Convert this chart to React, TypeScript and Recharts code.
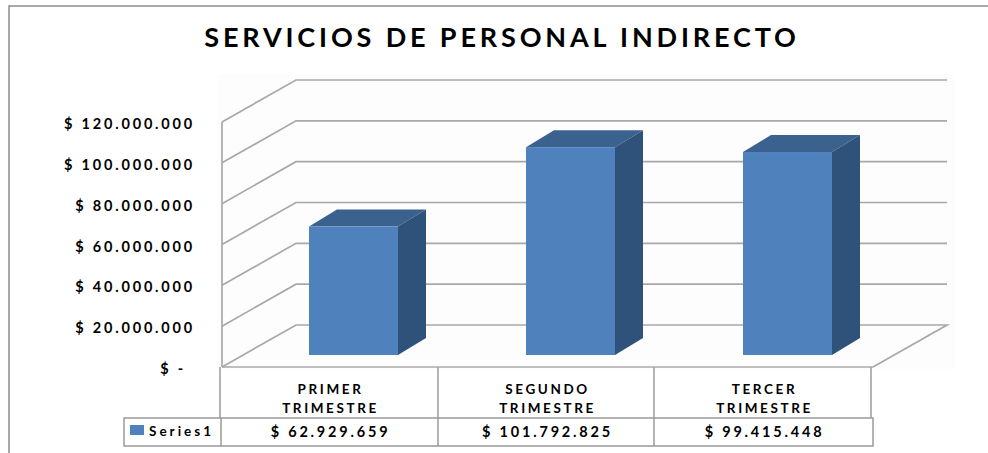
import React from 'react';
import { BarChart, Bar, XAxis, YAxis, CartesianGrid, Customized } from 'recharts';

const TITLE = 'SERVICIOS DE PERSONAL INDIRECTO';
const SERIES_NAME = 'Series1';
const categoryFirstLine = ['PRIMER', 'SEGUNDO', 'TERCER'];
const categorySecondLine = ['TRIMESTRE', 'TRIMESTRE', 'TRIMESTRE'];
const seriesValues = [62929659, 101792825, 99415448];
const valueLabels = ['$ 62.929.659', '$ 101.792.825', '$ 99.415.448'];
const axisTicks = [0, 20000000, 40000000, 60000000, 80000000, 100000000, 120000000];
const axisLabels = ['$ -', '$ 20.000.000', '$ 40.000.000', '$ 60.000.000', '$ 80.000.000', '$ 100.000.000', '$ 120.000.000'];

const data = categoryFirstLine.map((c, i) => ({ name: c, value: seriesValues[i], idx: i }));

const FONT = 'Lato, "Open Sans", sans-serif';
const GRID = '#a8a8a8';
const DX = 74;
const DY = -42;
const FRONT = '#4F81BD';
const SIDE = '#2F527A';
const TOP = '#3B628F';

const GridLine = (p: any) => {
  const { x1, x2, y1 } = p;
  const isFloor = y1 > 360;
  return (
    <g>
      <polyline
        points={`${x1},${y1} ${x1 + DX},${y1 + DY} ${x2 + DX},${y1 + DY}${isFloor ? ` ${x2},${y1}` : ''}`}
        fill="none"
        stroke={GRID}
        strokeWidth={1.7}
      />
    </g>
  );
};

const Bar3D = (p: any) => {
  const ox = 23;
  const oy = -12;
  const dx = 28;
  const dy = -17;
  const x = p.x + ox;
  const y = p.y + oy;
  const w = p.width;
  const h = p.height;
  return (
    <g>
      <polygon points={`${x},${y} ${x + dx},${y + dy} ${x + w + dx},${y + dy} ${x + w},${y}`} fill={TOP} />
      <polygon points={`${x + w},${y} ${x + w + dx},${y + dy} ${x + w + dx},${y + h + dy} ${x + w},${y + h}`} fill={SIDE} />
      <rect x={x} y={y} width={w} height={h} fill={FRONT} />
    </g>
  );
};

const YTick = (p: any) => {
  const i = axisTicks.indexOf(p.payload.value);
  return (
    <text x={i === 0 ? 186 : 195} y={p.y + 7} textAnchor="end" fontFamily={FONT} fontWeight={700} fontSize={14.5} letterSpacing={2.8} fill="#000">
      {axisLabels[i]}
    </text>
  );
};

const XTick = (p: any) => {
  const i = p.index;
  return (
    <g fontFamily={FONT} fontWeight={700} fill="#000" textAnchor="middle">
      <text x={p.x} y={394} fontSize={13.5} letterSpacing={2.6}>{categoryFirstLine[i]}</text>
      <text x={p.x} y={413} fontSize={13.5} letterSpacing={2.6}>{categorySecondLine[i]}</text>
      <text x={p.x} y={437} fontSize={14.5} letterSpacing={2.8}>{valueLabels[i]}</text>
    </g>
  );
};

const TableFrame = () => (
  <g>
    <polyline points="9,453 9,6 988,6" fill="none" stroke="#8c8c8c" strokeWidth={1.5} />
    <text x={502} y={47} textAnchor="middle" fontFamily={FONT} fontWeight={700} fontSize={27} letterSpacing={3.85} fill="#000">
      {TITLE}
    </text>
    <g stroke="#9a9a9a" strokeWidth={1.5} fill="none">
      <line x1={220} y1={367} x2={220} y2={418} />
      <line x1={438} y1={367} x2={438} y2={418} />
      <line x1={654} y1={367} x2={654} y2={418} />
      <line x1={871} y1={367} x2={871} y2={418} />
      <rect x={124} y={418} width={749} height={28} />
      <line x1={221} y1={418} x2={221} y2={446} />
      <line x1={438} y1={418} x2={438} y2={446} />
      <line x1={654} y1={418} x2={654} y2={446} />
    </g>
    <rect x={130} y={425} width={14} height={10} fill={FRONT} />
    <text x={149} y={436} fontFamily={FONT} fontWeight={700} fontSize={13.5} letterSpacing={3} fill="#000">
      {SERIES_NAME}
    </text>
  </g>
);

export default function App() {
  return (
    <div style={{ position: 'absolute', left: 0, top: 0, width: 988, height: 453, background: '#fff' }}>
      <div style={{ position: 'absolute', left: 217, top: 74, width: 738, height: 296, background: '#fdfdfd' }} />
      <div style={{ position: 'absolute', left: 0, top: 0 }}>
        <BarChart width={988} height={453} data={data} margin={{ top: 122, right: 115, bottom: 0, left: 0 }} barCategoryGap={0}>
          <CartesianGrid vertical={false} horizontal={GridLine as any} />
          <YAxis
            width={222}
            domain={[0, 120000000]}
            ticks={axisTicks}
            interval={0}
            tick={YTick as any}
            tickLine={false}
            axisLine={{ stroke: GRID, strokeWidth: 1.7 }}
          />
          <XAxis
            dataKey="name"
            height={86}
            interval={0}
            tick={XTick as any}
            tickLine={false}
            axisLine={{ stroke: GRID, strokeWidth: 1.7 }}
          />
          <Bar dataKey="value" barSize={89} shape={Bar3D as any} isAnimationActive={false} />
          <Customized component={TableFrame} />
        </BarChart>
      </div>
    </div>
  );
}
